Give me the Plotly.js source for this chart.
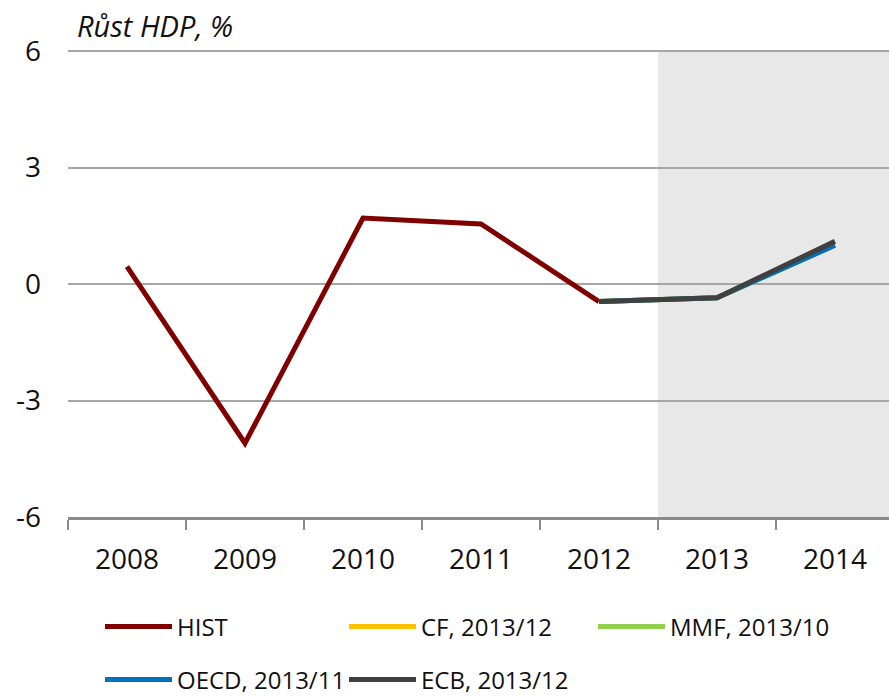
<!DOCTYPE html>
<html>
<head>
<meta charset="utf-8">
<script src="https://cdn.plot.ly/plotly-3.0.1.min.js"></script>
<style>html,body{margin:0;padding:0;background:#fff;}#chart{width:889px;height:696px;}</style>
</head>
<body>
<div id="chart"></div>
<script>
const years = ['2008', '2009', '2010', '2011', '2012', '2013', '2014'];
const histYears = ['2008', '2009', '2010', '2011', '2012'];
const histValues = [0.45, -4.1, 1.7, 1.55, -0.45];
const fcYears = ['2012', '2013', '2014'];
const cfValues = [-0.45, -0.35, 1.0];
const mmfValues = [-0.45, -0.35, 1.0];
const oecdValues = [-0.45, -0.35, 1.0];
const ecbValues = [-0.45, -0.35, 1.1];
const yTicks = [-6, -3, 0, 3, 6];

const FONT = 'Open Sans, Noto Sans, sans-serif';
const W = 889, H = 696;

function tr(name, x, y, color, legend) {
  return {type: 'scatter', mode: 'lines', name: name, x: x, y: y,
    line: {color: color, width: 5}, legend: legend, hoverinfo: 'skip'};
}

const data = [
  tr('HIST', histYears, histValues, '#800000', 'legend'),
  tr('CF, 2013/12', fcYears, cfValues, '#ffc000', 'legend2'),
  tr('MMF, 2013/10', fcYears, mmfValues, '#92d050', 'legend3'),
  tr('OECD, 2013/11', fcYears, oecdValues, '#0070c0', 'legend4'),
  tr('ECB, 2013/12', fcYears, ecbValues, '#404040', 'legend5')
];

function leg(px, py) {
  return {x: px / W, y: 1 - py / H, xref: 'container', yref: 'container',
    xanchor: 'left', yanchor: 'middle', bgcolor: 'rgba(0,0,0,0)', borderwidth: 0,
    itemwidth: 67, font: {family: FONT, size: 24, color: '#111'}};
}

const layout = {
  width: W, height: H,
  margin: {l: 68, r: 0, t: 50, b: 179, autoexpand: false},
  paper_bgcolor: '#fff', plot_bgcolor: 'rgba(0,0,0,0)',
  showlegend: true,
  title: {text: '<i>Růst HDP, %</i>', x: 77 / W, xanchor: 'left', xref: 'container',
    y: 1 - 27 / H, yanchor: 'middle', yref: 'container',
    font: {family: FONT, size: 29, color: '#111'}},
  xaxis: {type: 'category', categoryorder: 'array', categoryarray: years,
    range: [-0.5, 6.458], showgrid: false, zeroline: false, automargin: false,
    showline: true, linecolor: '#8a8a8a', linewidth: 3,
    ticks: 'outside', tickson: 'boundaries', ticklen: 10, tickwidth: 2, tickcolor: '#8a8a8a',
    ticklabelstandoff: 15, tickangle: 0,
    tickfont: {family: FONT, size: 28, color: '#111'}},
  yaxis: {range: [-6, 6.03], tickvals: yTicks, ticktext: yTicks.map(String),
    showgrid: true, gridcolor: '#a6a6a6', gridwidth: 2, zeroline: false, showline: false,
    ticks: '', ticklabelstandoff: 26, automargin: false,
    tickfont: {family: FONT, size: 28, color: '#111'}},
  shapes: [{type: 'rect', xref: 'x', yref: 'y', x0: 4.5, x1: 6.458, y0: -6, y1: 6,
    fillcolor: '#e8e8e8', line: {width: 0}, layer: 'below'}],
  legend: leg(100, 627),
  legend2: leg(344, 627),
  legend3: leg(593, 627),
  legend4: leg(100, 680),
  legend5: leg(344, 680)
};

Plotly.newPlot('chart', data, layout, {displayModeBar: false, staticPlot: true});
</script>
</body>
</html>
